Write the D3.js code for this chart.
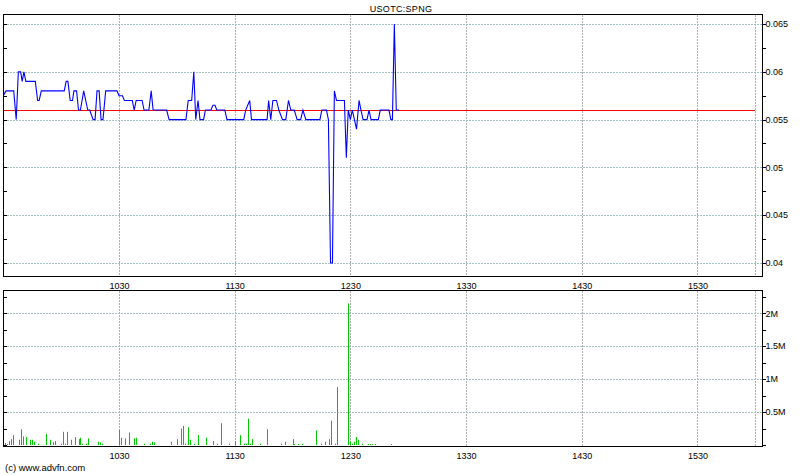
<!DOCTYPE html>
<html><head><meta charset="utf-8">
<script src="https://cdn.jsdelivr.net/npm/d3@7"></script>
<style>
body{margin:0;background:#fff}
svg{display:block}
text{font-family:"Liberation Sans",Arial,sans-serif;fill:#000}
</style>
</head><body>
<svg id="chart" width="800" height="475"></svg>
<script>
// ---------- data ----------
const title = "USOTC:SPNG";
const copyright = "(c) www.advfn.com";
const sessionStart = "0930";
const sessionEnd = "1600";
const xTickLabels = ["1030", "1130", "1230", "1330", "1430", "1530", "1600"];
const xTickShown = ["1030", "1130", "1230", "1330", "1430", "1530"];
const priceTicks = [0.04, 0.045, 0.05, 0.055, 0.06, 0.065];
const volumeTicks = [500000, 1000000, 1500000, 2000000];
const referencePrice = 0.056;

// minutes after 09:30
const priceMinutes = [0, 1.4, 5.4, 6.7, 7.8, 9.0, 9.8, 10.7, 11.7, 16.6, 17.8, 18.6, 19.7, 31.6, 32.6, 33.5, 34.7, 35.9, 36.6, 38.0,
  39.0, 40.0, 41.7, 43.8, 44.8, 46.6, 47.6, 48.6, 49.7, 50.7, 51.7, 53.1, 59.0, 60.0, 61.8, 62.8, 66.9, 67.9, 68.9, 72.0,
  73.0, 75.5, 76.7, 77.7, 84.7, 86.0, 94.7, 95.9, 97.7, 98.8, 99.8, 101.0, 102.0, 103.9, 104.8, 107.7, 108.7, 109.8, 110.7, 114.9,
  116.0, 124.7, 125.7, 127.8, 128.7, 136.8, 137.6, 138.7, 139.8, 141.7, 142.9, 144.8, 146.5, 147.9, 149.1, 150.9, 152.4, 154.2, 155.4, 156.9,
  164.2, 165.2, 167.6, 168.6, 169.7, 170.7, 171.7, 172.8, 176.9, 177.9, 178.9, 180.0, 181.0, 183.2, 184.5, 185.5, 186.6, 188.6, 189.7, 190.7,
  194.5, 195.5, 200.0, 201.0, 201.8, 202.8, 203.8, 205.2];
const priceValues = [0.0575, 0.058, 0.058, 0.055, 0.060, 0.060, 0.059, 0.060, 0.059, 0.059, 0.057, 0.057, 0.058, 0.058, 0.059, 0.059, 0.057, 0.057, 0.058, 0.058,
  0.056, 0.056, 0.058, 0.056, 0.056, 0.055, 0.055, 0.058, 0.058, 0.055, 0.055, 0.058, 0.058, 0.0575, 0.0575, 0.057, 0.057, 0.056, 0.057, 0.057,
  0.056, 0.056, 0.058, 0.056, 0.056, 0.055, 0.055, 0.057, 0.057, 0.060, 0.055, 0.057, 0.055, 0.055, 0.056, 0.056, 0.0565, 0.0565, 0.056, 0.056,
  0.055, 0.055, 0.056, 0.057, 0.055, 0.055, 0.057, 0.055, 0.057, 0.057, 0.056, 0.055, 0.055, 0.057, 0.056, 0.056, 0.055, 0.055, 0.056, 0.055,
  0.055, 0.056, 0.056, 0.055, 0.040, 0.040, 0.058, 0.057, 0.057, 0.051, 0.056, 0.055, 0.056, 0.054, 0.057, 0.056, 0.055, 0.055, 0.056, 0.055,
  0.055, 0.056, 0.056, 0.055, 0.055, 0.065, 0.056, 0.056];

const volumeMinutes = [0, 1, 2, 3, 4, 5, 8, 9, 10, 12, 14, 15, 16, 18, 22, 24, 26, 27, 30, 31,
  32, 33, 35, 37, 39, 40, 41, 43, 44, 49, 50, 51, 60, 61, 63, 65, 68, 69, 73, 76,
  77, 78, 87, 90, 92, 93, 94, 96, 97, 99, 101, 105, 109, 111, 113, 117, 120, 123, 125, 126,
  127, 128, 129, 133, 137, 144, 146, 150, 151, 153, 155, 162, 165, 167, 169, 170, 172, 173, 179, 180,
  181, 182, 183, 184, 186, 189, 190, 191, 193, 201];
const volumeValues = [720000, 30000, 15000, 60000, 90000, 150000, 80000, 240000, 130000, 120000, 80000, 80000, 50000, 20000, 170000, 80000, 40000, 60000, 20000, 200000,
  20000, 200000, 80000, 120000, 90000, 110000, 20000, 20000, 100000, 50000, 40000, 20000, 230000, 110000, 100000, 190000, 100000, 110000, 20000, 20000,
  50000, 40000, 50000, 90000, 250000, 290000, 20000, 270000, 80000, 20000, 150000, 110000, 60000, 20000, 330000, 20000, 60000, 150000, 20000, 20000,
  400000, 20000, 90000, 20000, 240000, 20000, 50000, 90000, 15000, 15000, 20000, 220000, 20000, 50000, 90000, 370000, 20000, 880000, 2150000, 50000,
  20000, 50000, 120000, 80000, 20000, 15000, 15000, 15000, 15000, 15000];

// ---------- layout ----------
const svg = d3.select("#chart");
const L = 3.5, R = 762.5;
const P = {top: 14.5, bottom: 276.5};
const V = {top: 290.5, bottom: 446.5};

const toMin = s => (+s.slice(0, 2)) * 60 + (+s.slice(2)) - ((+sessionStart.slice(0, 2)) * 60 + (+sessionStart.slice(2)));
const x = d3.scaleLinear().domain([toMin(sessionStart), toMin(sessionEnd)]).range([3.3, 755.3]);
const yP = d3.scaleLinear().domain([0.04, 0.065]).range([263, 24]);
const yV = d3.scaleLinear().domain([0, 2000000]).range([445, 313.3]);

const hGrid = "#a6c2c2", vGrid = "#b0b0b0";

function panel(top, bottom, yScale, ticks, minorStep, fmt) {
  const g = svg.append("g");
  // vertical grid
  g.selectAll(".vg").data(xTickLabels).join("line")
    .attr("x1", d => Math.round(x(toMin(d))) + 0.5).attr("x2", d => Math.round(x(toMin(d))) + 0.5)
    .attr("y1", top).attr("y2", bottom)
    .attr("stroke", vGrid).attr("stroke-width", 1).attr("stroke-dasharray", "2,1")
    .attr("shape-rendering", "crispEdges");
  // horizontal grid
  g.selectAll(".hg").data(ticks).join("line")
    .attr("x1", L).attr("x2", R)
    .attr("y1", d => Math.round(yScale(d)) + 0.5).attr("y2", d => Math.round(yScale(d)) + 0.5)
    .attr("stroke", hGrid).attr("stroke-width", 1).attr("stroke-dasharray", "2,1")
    .attr("shape-rendering", "crispEdges");
  // minor + major ticks
  const [d0, d1] = [yScale.invert(bottom), yScale.invert(top)];
  const minors = d3.range(Math.ceil(d0 / minorStep) * minorStep, d1, minorStep);
  g.selectAll(".mt").data(minors).join("line")
    .attr("x1", R).attr("x2", R + 3)
    .attr("y1", d => Math.round(yScale(d)) + 0.5).attr("y2", d => Math.round(yScale(d)) + 0.5)
    .attr("stroke", "#000").attr("shape-rendering", "crispEdges");
  g.selectAll(".ml").data(minors).join("line")
    .attr("x1", L).attr("x2", L + 3)
    .attr("y1", d => Math.round(yScale(d)) + 0.5).attr("y2", d => Math.round(yScale(d)) + 0.5)
    .attr("stroke", "#000").attr("shape-rendering", "crispEdges");
  g.selectAll(".yl").data(ticks).join("text")
    .attr("x", R + 3).attr("y", d => yScale(d) + 3.2)
    .attr("font-size", "9px").text(fmt);
  // x labels under panel
  g.selectAll(".xl").data(xTickShown).join("text")
    .attr("x", d => x(toMin(d)) + 0.5).attr("y", bottom + 12)
    .attr("text-anchor", "middle").attr("font-size", "9px").text(d => d);
  return g;
}

panel(P.top, P.bottom, yP, priceTicks, 0.0025, d => String(+d.toFixed(3)));
panel(V.top, V.bottom, yV, volumeTicks, 250000, d => (d / 1e6) + "M");

// clip paths
const defs = svg.append("defs");
defs.append("clipPath").attr("id", "cp").append("rect")
  .attr("x", L).attr("y", P.top).attr("width", R - L).attr("height", P.bottom - P.top);

// reference line
svg.append("line")
  .attr("x1", L).attr("x2", x(toMin(sessionEnd)))
  .attr("y1", Math.round(yP(referencePrice)) + 0.5).attr("y2", Math.round(yP(referencePrice)) + 0.5)
  .attr("stroke", "#ff0000").attr("stroke-width", 1).attr("shape-rendering", "crispEdges");

// price line
const pts = priceMinutes.map((m, i) => [m, priceValues[i]]);
svg.append("path")
  .attr("clip-path", "url(#cp)")
  .attr("d", d3.line().x(d => x(d[0])).y(d => yP(d[1]))(pts))
  .attr("fill", "none").attr("stroke", "#0000ff").attr("stroke-width", 1.1);

// volume bars
svg.append("g").selectAll("rect").data(volumeMinutes.map((m, i) => [m, volumeValues[i]])).join("rect")
  .attr("x", d => Math.round(x(d[0])))
  .attr("width", 1)
  .attr("y", d => yV(d[1]))
  .attr("height", d => yV(0) - yV(d[1]))
  .attr("fill", "#00c800");

// frames
[[P.top, P.bottom], [V.top, V.bottom]].forEach(([t, b]) => {
  svg.append("rect").attr("x", L).attr("y", t).attr("width", R - L).attr("height", b - t)
    .attr("fill", "none").attr("stroke", "#000").attr("stroke-width", 1)
    .attr("shape-rendering", "crispEdges");
});

// title & copyright
svg.append("text").attr("x", 401).attr("y", 12).attr("text-anchor", "middle")
  .attr("font-size", "9px").attr("letter-spacing", "0.3px").text(title);
svg.append("text").attr("x", 5).attr("y", 471).attr("font-size", "9.5px").text(copyright);
</script>
</body></html>
